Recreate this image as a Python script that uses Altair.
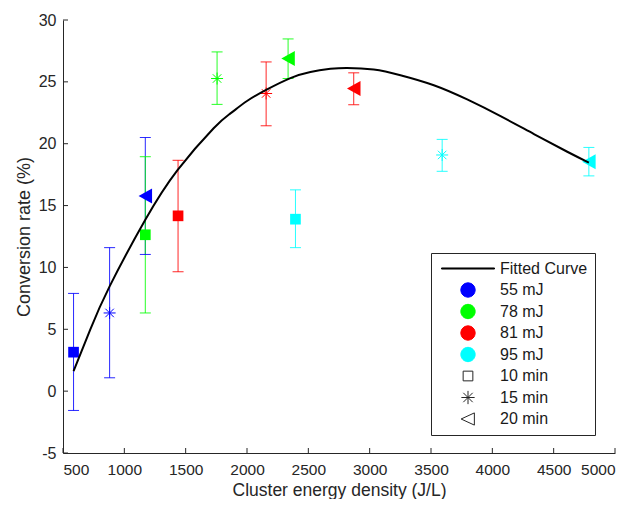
import altair as alt
import pandas as pd

# ---------------- data ----------------
energy = ["55 mJ"] * 3 + ["78 mJ"] * 3 + ["81 mJ"] * 3 + ["95 mJ"] * 3
duration = ["10 min", "15 min", "20 min"] * 4
density = [586, 880, 1171, 1171, 1756, 2335, 1438, 2156, 2870, 2395, 3591, 4787]
rate = [3.15, 6.32, 15.78, 12.64, 25.27, 26.88, 14.17, 24.06, 24.47, 13.9, 19.09, 18.55]
rate_lo = [-1.56, 1.08, 11.05, 6.32, 23.18, 25.27, 9.65, 21.45, 23.15, 11.6, 17.77, 17.4]
rate_hi = [7.9, 11.6, 20.5, 18.95, 27.42, 28.47, 18.66, 26.61, 25.73, 16.27, 20.35, 19.7]

fit_x = [586, 722, 880, 1171, 1435, 1728, 1865, 2000, 2156, 2354, 2517, 2680,
         2816, 3033, 3251, 3523, 3795, 4067, 4339, 4611, 4787]
fit_y = [1.61, 4.98, 8.47, 13.85, 17.88, 21.25, 22.45, 23.45, 24.35, 25.3, 25.8, 26.05,
         26.13, 26.0, 25.54, 24.73, 23.58, 22.23, 20.78, 19.35, 18.47]

energy_levels = ["55 mJ", "78 mJ", "81 mJ", "95 mJ"]
energy_colors = ["#0000ff", "#00ff00", "#ff0000", "#00ffff"]
legend_entries = ["Fitted Curve"] + energy_levels + ["10 min", "15 min", "20 min"]
x_ticks = list(range(500, 5001, 500))
y_ticks = list(range(-5, 31, 5))

# ---------------- styling ----------------
AXIS_COLOR = "#262626"
FONT = "Liberation Sans"
W, H = 552, 433

ASTERISK = "M0,-1L0,1M-1,0L1,0M-0.707,-0.707L0.707,0.707M-0.707,0.707L0.707,-0.707"
TRI_LEFT = "M-0.9,0L0.9,-1L0.9,1Z"

# legend symbols (all drawn with one legend symbol size; path extents set the look)
LG_LINE = "M-1,-0.02L1,-0.02L1,0.02L-1,0.02Z"
LG_CIRCLE = "M-0.27,0A0.27,0.27 0 1,0 0.27,0A0.27,0.27 0 1,0 -0.27,0Z"
LG_SQUARE = "M-0.183,-0.183L0.183,-0.183L0.183,0.183L-0.183,0.183Z"
LG_AST = ("M0,-0.25L0,0.25M-0.25,0L0.25,0M-0.177,-0.177L0.177,0.177"
          "M-0.177,0.177L0.177,-0.177")
LG_TRI = "M-0.26,0L0.24,-0.23L0.24,0.23Z"

df = pd.DataFrame({
    "energy": energy, "duration": duration, "density": density,
    "rate": rate, "lo": rate_lo, "hi": rate_hi,
})
fit_df = pd.DataFrame({"fx": fit_x, "fy": fit_y})
xt_df = pd.DataFrame({"t": x_ticks})
yt_df = pd.DataFrame({"t": y_ticks})
leg_df = pd.DataFrame({"entry": legend_entries,
                       "lx": [None] * len(legend_entries),
                       "ly": [None] * len(legend_entries)})

xs = alt.Scale(domain=[500, 5000], nice=False, zero=False)
ys = alt.Scale(domain=[-5, 30], nice=False, zero=False)

x_axis = alt.Axis(values=x_ticks, format="d", title="Cluster energy density (J/L)",
                  labelPadding=9, labelFontSize=15.5, titleFontSize=17.5,
                  titleY=42.2, titleBaseline="alphabetic")
y_axis = alt.Axis(values=y_ticks, title="Conversion rate (%)",
                  labelExpr="'' + datum.value", labelPadding=7, titlePadding=4.5)


def xq(field):
    return alt.X(field, type="quantitative", scale=xs, axis=x_axis)


def yq(field):
    return alt.Y(field, type="quantitative", scale=ys, axis=y_axis)


C = alt.Color("energy:N", scale=alt.Scale(domain=energy_levels, range=energy_colors),
              legend=None)

base = alt.Chart(df)

bars = base.mark_rule(strokeWidth=1, opacity=0.85).encode(
    x=xq("density"), y=yq("lo"), y2="hi:Q", color=C)
cap_lo = base.mark_tick(orient="horizontal", size=11, thickness=1, opacity=0.85).encode(
    x=xq("density"), y=yq("lo"), color=C)
cap_hi = base.mark_tick(orient="horizontal", size=11, thickness=1, opacity=0.85).encode(
    x=xq("density"), y=yq("hi"), color=C)

squares = base.transform_filter(alt.datum.duration == "10 min").mark_square(
    size=114, opacity=1).encode(x=xq("density"), y=yq("rate"), color=C)
stars = base.transform_filter(alt.datum.duration == "15 min").mark_point(
    shape=ASTERISK, size=144, filled=False, strokeWidth=1, opacity=1).encode(
    x=xq("density"), y=yq("rate"), color=C)
tris = base.transform_filter(alt.datum.duration == "20 min").mark_point(
    shape=TRI_LEFT, size=225, filled=True, opacity=1).encode(
    x=xq("density"), y=yq("rate"), color=C)

curve = alt.Chart(fit_df).mark_line(color="black", strokeWidth=2,
                                    interpolate="natural").encode(
    x=xq("fx"), y=yq("fy"))

xticks = alt.Chart(xt_df).mark_rule(color=AXIS_COLOR, strokeWidth=1).encode(
    x=xq("t"), y=alt.value(H), y2=alt.value(H - 5))
yticks = alt.Chart(yt_df).mark_rule(color=AXIS_COLOR, strokeWidth=1).encode(
    y=yq("t"), x=alt.value(0), x2=alt.value(5))

leg = alt.Legend(title=None, orient="none", legendX=368, legendY=233)
fill_range = ["black"] + energy_colors + ["transparent"] * 3
stroke_range = ["black"] + energy_colors + ["#262626"] * 3
shape_range = [LG_LINE] + [LG_CIRCLE] * 4 + [LG_SQUARE, LG_AST, LG_TRI]

legend_layer = alt.Chart(leg_df).mark_point(opacity=1).encode(
    x=xq("lx"),
    y=yq("ly"),
    fill=alt.Fill("entry:N", scale=alt.Scale(domain=legend_entries, range=fill_range),
                  legend=leg),
    stroke=alt.Stroke("entry:N", scale=alt.Scale(domain=legend_entries, range=stroke_range),
                      legend=leg),
    shape=alt.Shape("entry:N", scale=alt.Scale(domain=legend_entries, range=shape_range),
                    legend=leg),
)

chart = alt.layer(
    bars, cap_lo, cap_hi, squares, stars, tris, curve, xticks, yticks, legend_layer
).properties(
    width=W, height=H,
    autosize=alt.AutoSizeParams(type="none"),
    padding={"left": 55, "top": 12, "right": 11, "bottom": 46},
).configure_view(
    stroke=None
).configure_axis(
    domainColor=AXIS_COLOR, domainWidth=1, ticks=False, grid=False,
    labelColor=AXIS_COLOR, titleColor=AXIS_COLOR,
    labelFont=FONT, titleFont=FONT, labelFontSize=16, titleFontSize=18,
    titleFontWeight="normal",
).configure_legend(
    strokeColor=AXIS_COLOR, fillColor="white", padding=7, cornerRadius=0,
    labelFont=FONT, labelFontSize=16, labelColor="#1a1a1a",
    symbolSize=2809, symbolStrokeWidth=1, clipHeight=17, rowPadding=4.5,
    labelOffset=5, symbolOffset=3,
)

chart.save("out.html", embed_options={"renderer": "svg", "actions": False})
